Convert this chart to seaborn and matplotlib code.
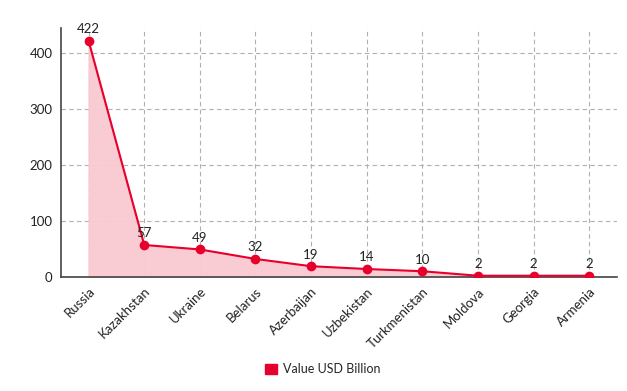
import pandas as pd
import matplotlib.pyplot as plt
import seaborn as sns
from matplotlib.patches import Patch

countries = ["Russia", "Kazakhstan", "Ukraine", "Belarus", "Azerbaijan",
             "Uzbekistan", "Turkmenistan", "Moldova", "Georgia", "Armenia"]
values = [422, 57, 49, 32, 19, 14, 10, 2, 2, 2]

df = pd.DataFrame({"country": countries, "value": values})
df["pos"] = range(len(df))

sns.set_theme(style="white")
plt.rcParams["font.family"] = ["Lato", "DejaVu Sans"]

fig = plt.figure(figsize=(6.27, 3.91), dpi=100)
ax = fig.add_axes([0.097, 0.292, 0.887, 0.636])

red = "#e8002d"
ax.fill_between(df["pos"], df["value"], color="#f9c9d1", alpha=0.95, zorder=1)
sns.lineplot(data=df, x="pos", y="value", color=red, linewidth=1.5,
             marker="o", markersize=7, markeredgewidth=0, ax=ax, zorder=3)

for x, v in zip(df["pos"], df["value"]):
    ax.annotate(str(v), (x, v), xytext=(0, 4), textcoords="offset points",
                ha="center", va="bottom", fontsize=9.5, color="#222222")

ax.set_xlim(-0.5, 9.5)
ax.set_ylim(0, 445)
ax.set_yticks([0, 100, 200, 300, 400])
ax.set_xticks(df["pos"])
ax.set_xticklabels(countries, rotation=45, ha="right", rotation_mode="anchor")
ax.tick_params(axis="both", labelsize=9.5, colors="#222222", length=0, pad=6)
ax.grid(True, linestyle=(0, (4, 3)), color="#b0b0b0", linewidth=0.8)
ax.set_axisbelow(True)
ax.set_xlabel("")
ax.set_ylabel("")

for s in ["top", "right"]:
    ax.spines[s].set_visible(False)
for s in ["left", "bottom"]:
    ax.spines[s].set_color("#444444")
    ax.spines[s].set_linewidth(1.2)

handle = Patch(facecolor=red, edgecolor=red, label="Value USD Billion")
fig.legend(handles=[handle], loc="center", bbox_to_anchor=(0.515, 0.055),
           frameon=False, fontsize=9, handlelength=0.9, handleheight=0.9,
           handletextpad=0.5)

plt.savefig("out.png", dpi=100)
